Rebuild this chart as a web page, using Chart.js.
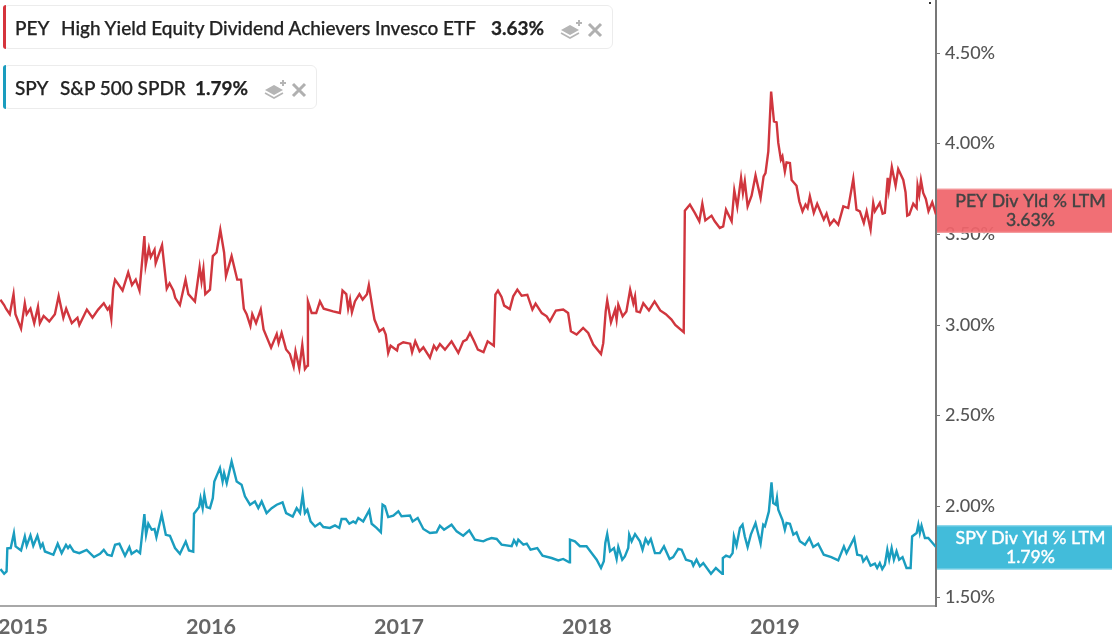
<!DOCTYPE html>
<html><head><meta charset="utf-8">
<script src="https://cdn.jsdelivr.net/npm/chart.js@4/dist/chart.umd.min.js"></script>
<style>
html,body{margin:0;padding:0;background:#fff;overflow:hidden}
#wrap{position:relative;width:1112px;height:639px}
canvas{position:absolute;left:0;top:0}
.tag{position:absolute;left:3px;height:42px;background:#fff;border:1px solid #ececec;border-radius:6px;font:500 19px Lato,sans-serif;color:#222;box-sizing:content-box;white-space:pre;-webkit-text-stroke:.25px #222}
.tag:before{content:"";position:absolute;left:-1px;top:-1px;bottom:-1px;width:3px;border-radius:3px 0 0 3px;background:var(--c)}
.tag span{position:absolute;top:11px;line-height:22px}
.tag b{font-weight:700}
.tag svg{position:absolute;top:9px}
</style></head><body>
<div id="wrap"><canvas id="c" width="1112" height="639"></canvas>
<div class="tag" style="top:5px;width:608px;--c:#d5343c">
<span style="left:11px">PEY</span><span style="left:57px">High Yield Equity Dividend Achievers Invesco ETF</span><span style="left:487px"><b>3.63%</b></span>
<svg style="left:556px" width="46" height="26" viewBox="0 0 46 26"><path d="M1 15l9-5 9 5-9 5z" fill="#b5b5b5"/><path d="M1 18l9 5 9-5" fill="none" stroke="#b5b5b5" stroke-width="1.6"/><path d="M16 8h6M19 5v6" stroke="#b5b5b5" stroke-width="2"/><path d="M29 9l12 12M41 9L29 21" stroke="#b0b0b0" stroke-width="3"/></svg>
</div>
<div class="tag" style="top:65px;width:312px;--c:#1a9cbe">
<span style="left:11px">SPY</span><span style="left:56px">S&amp;P 500 SPDR</span><span style="left:191px"><b>1.79%</b></span>
<svg style="left:260px" width="46" height="26" viewBox="0 0 46 26"><path d="M1 15l9-5 9 5-9 5z" fill="#b5b5b5"/><path d="M1 18l9 5 9-5" fill="none" stroke="#b5b5b5" stroke-width="1.6"/><path d="M16 8h6M19 5v6" stroke="#b5b5b5" stroke-width="2"/><path d="M29 9l12 12M41 9L29 21" stroke="#b0b0b0" stroke-width="3"/></svg>
</div>
</div>
<script>
const yTickValues=[1.5,2,2.5,3,3.5,4,4.5];
const xTickYears=[2015,2016,2017,2018,2019];
const peyName="PEY Div Yld % LTM", spyName="SPY Div Yld % LTM";
const peyLast=3.63, spyLast=1.79;
const peyYears=[2014.88,2014.90,2014.91,2014.93,2014.95,2014.96,2014.99,2015.01,2015.02,2015.04,2015.06,2015.08,2015.09,2015.11,2015.14,2015.17,2015.19,2015.215,2015.23,2015.26,2015.29,2015.30,2015.34,2015.37,2015.40,2015.43,2015.45,2015.46,2015.47,2015.48,2015.49,2015.53,2015.56,2015.58,2015.60,2015.62,2015.646,2015.653,2015.67,2015.68,2015.70,2015.706,2015.74,2015.765,2015.78,2015.80,2015.81,2015.835,2015.865,2015.88,2015.915,2015.94,2015.95,2015.96,2015.97,2015.995,2016.01,2016.03,2016.05,2016.07,2016.08,2016.11,2016.14,2016.16,2016.175,2016.19,2016.21,2016.22,2016.24,2016.265,2016.28,2016.32,2016.35,2016.36,2016.376,2016.40,2016.42,2016.44,2016.45,2016.47,2016.486,2016.50,2016.513,2016.516,2016.536,2016.56,2016.58,2016.60,2016.65,2016.686,2016.70,2016.72,2016.73,2016.74,2016.75,2016.766,2016.79,2016.807,2016.83,2016.84,2016.86,2016.87,2016.896,2016.917,2016.93,2016.943,2016.956,2016.99,2016.997,2017.023,2017.06,2017.07,2017.087,2017.11,2017.13,2017.165,2017.186,2017.20,2017.218,2017.245,2017.28,2017.316,2017.342,2017.36,2017.378,2017.40,2017.42,2017.45,2017.472,2017.505,2017.513,2017.527,2017.546,2017.56,2017.59,2017.608,2017.63,2017.653,2017.683,2017.71,2017.727,2017.76,2017.786,2017.803,2017.835,2017.874,2017.90,2017.915,2017.945,2017.98,2018.007,2018.034,2018.075,2018.087,2018.10,2018.108,2018.128,2018.15,2018.158,2018.167,2018.19,2018.21,2018.23,2018.247,2018.256,2018.264,2018.282,2018.30,2018.33,2018.36,2018.39,2018.42,2018.45,2018.47,2018.515,2018.521,2018.548,2018.574,2018.598,2018.614,2018.63,2018.663,2018.68,2018.707,2018.725,2018.74,2018.77,2018.784,2018.80,2018.82,2018.83,2018.84,2018.855,2018.876,2018.897,2018.924,2018.94,2018.95,2018.965,2018.98,2018.995,2019.009,2019.018,2019.032,2019.04,2019.053,2019.062,2019.08,2019.089,2019.115,2019.13,2019.147,2019.163,2019.174,2019.186,2019.207,2019.225,2019.26,2019.275,2019.293,2019.314,2019.337,2019.364,2019.39,2019.417,2019.434,2019.452,2019.473,2019.488,2019.509,2019.523,2019.532,2019.558,2019.573,2019.585,2019.60,2019.606,2019.622,2019.642,2019.656,2019.683,2019.695,2019.704,2019.715,2019.736,2019.754,2019.759,2019.768,2019.777,2019.789,2019.803,2019.817,2019.837,2019.857];
const peyValues=[3.14,3.11,3.09,3.06,3.17,3.06,2.98,3.12,3.06,3.09,3.01,3.10,3.01,3.05,3.02,3.06,3.16,3.04,3.09,3.01,3.04,3.00,3.085,3.04,3.085,3.12,3.085,3.10,3.035,3.20,3.25,3.19,3.29,3.22,3.25,3.19,3.49,3.33,3.425,3.375,3.415,3.34,3.44,3.20,3.23,3.19,3.15,3.11,3.25,3.17,3.13,3.32,3.24,3.31,3.17,3.195,3.38,3.40,3.525,3.40,3.27,3.38,3.25,3.25,3.09,3.06,2.995,3.06,3.01,3.085,2.975,2.875,2.95,2.90,2.956,2.865,2.84,2.77,2.855,2.76,2.89,2.757,2.776,3.13,3.066,3.066,3.13,3.09,3.075,3.066,3.19,3.17,3.09,3.14,3.07,3.13,3.17,3.14,3.17,3.22,3.09,3.03,2.965,2.98,2.947,2.846,2.886,2.86,2.89,2.905,2.897,2.85,2.91,2.855,2.877,2.82,2.886,2.864,2.895,2.864,2.91,2.846,2.91,2.92,2.956,2.91,2.864,2.85,2.91,2.886,3.167,3.19,3.155,3.107,3.088,3.158,3.195,3.162,3.167,3.085,3.118,3.066,3.048,3.02,3.08,3.085,3.066,2.965,2.947,2.984,2.956,2.892,2.84,2.90,3.075,3.136,3.015,3.085,3.03,3.112,3.048,3.075,3.195,3.12,3.158,3.075,3.07,3.12,3.08,3.13,3.08,3.06,3.03,3.00,2.96,3.63,3.664,3.618,3.572,3.669,3.577,3.603,3.572,3.535,3.544,3.636,3.572,3.743,3.651,3.811,3.728,3.792,3.654,3.713,3.825,3.70,3.82,3.838,3.958,4.287,4.123,4.118,4.004,3.912,3.93,3.847,3.897,3.893,3.80,3.768,3.682,3.627,3.664,3.645,3.71,3.618,3.669,3.581,3.614,3.553,3.581,3.553,3.654,3.645,3.805,3.636,3.627,3.563,3.627,3.526,3.673,3.627,3.673,3.614,3.618,3.811,3.746,3.871,3.768,3.86,3.80,3.732,3.603,3.609,3.669,3.645,3.768,3.719,3.798,3.728,3.695,3.627,3.677,3.61];
const spyYears=[2014.88,2014.90,2014.913,2014.917,2014.935,2014.952,2014.961,2014.99,2015.01,2015.02,2015.04,2015.055,2015.077,2015.094,2015.105,2015.117,2015.162,2015.185,2015.206,2015.229,2015.24,2015.25,2015.27,2015.30,2015.339,2015.378,2015.41,2015.43,2015.449,2015.472,2015.49,2015.513,2015.543,2015.566,2015.578,2015.605,2015.623,2015.646,2015.655,2015.667,2015.685,2015.70,2015.71,2015.738,2015.76,2015.782,2015.809,2015.835,2015.866,2015.883,2015.906,2015.91,2015.937,2015.945,2015.956,2015.965,2015.977,2015.995,2016.01,2016.018,2016.048,2016.062,2016.07,2016.084,2016.11,2016.137,2016.163,2016.181,2016.208,2016.234,2016.252,2016.27,2016.296,2016.323,2016.35,2016.381,2016.40,2016.435,2016.456,2016.474,2016.488,2016.50,2016.513,2016.53,2016.554,2016.58,2016.598,2016.633,2016.66,2016.683,2016.695,2016.718,2016.736,2016.757,2016.77,2016.784,2016.81,2016.842,2016.855,2016.881,2016.904,2016.913,2016.926,2016.943,2016.97,2016.997,2017.014,2017.059,2017.073,2017.10,2017.13,2017.165,2017.20,2017.218,2017.24,2017.28,2017.307,2017.342,2017.374,2017.404,2017.449,2017.467,2017.493,2017.52,2017.546,2017.60,2017.612,2017.626,2017.635,2017.662,2017.68,2017.70,2017.736,2017.764,2017.812,2017.848,2017.874,2017.906,2017.91,2017.936,2017.963,2017.998,2018.025,2018.052,2018.075,2018.09,2018.098,2018.108,2018.123,2018.144,2018.158,2018.167,2018.188,2018.202,2018.22,2018.225,2018.238,2018.256,2018.282,2018.296,2018.312,2018.326,2018.34,2018.362,2018.388,2018.41,2018.44,2018.459,2018.486,2018.504,2018.527,2018.557,2018.566,2018.583,2018.601,2018.619,2018.66,2018.686,2018.72,2018.723,2018.74,2018.76,2018.775,2018.782,2018.796,2018.814,2018.828,2018.84,2018.855,2018.872,2018.897,2018.924,2018.938,2018.947,2018.968,2018.982,2018.991,2019.005,2019.011,2019.018,2019.04,2019.053,2019.062,2019.08,2019.098,2019.115,2019.133,2019.16,2019.183,2019.204,2019.23,2019.26,2019.30,2019.337,2019.367,2019.381,2019.422,2019.438,2019.461,2019.47,2019.488,2019.509,2019.532,2019.544,2019.558,2019.571,2019.585,2019.598,2019.608,2019.621,2019.633,2019.647,2019.661,2019.679,2019.70,2019.722,2019.73,2019.754,2019.763,2019.771,2019.78,2019.798,2019.816,2019.857];
const spyValues=[1.654,1.628,1.641,1.768,1.77,1.852,1.779,1.757,1.834,1.783,1.84,1.783,1.838,1.775,1.794,1.751,1.733,1.794,1.742,1.788,1.77,1.784,1.751,1.742,1.76,1.72,1.738,1.76,1.733,1.727,1.788,1.794,1.727,1.775,1.738,1.757,1.742,1.957,1.843,1.904,1.871,1.875,1.83,1.954,1.843,1.838,1.77,1.738,1.806,1.757,1.75,1.959,1.996,2.045,1.99,2.064,1.996,1.99,2.045,2.137,2.211,2.137,2.183,2.128,2.248,2.137,2.119,2.055,2.009,2.027,1.99,2.027,1.963,1.99,2.009,2.022,1.963,1.944,1.99,1.963,2.064,1.963,1.981,1.917,1.889,1.908,1.886,1.881,1.895,1.881,1.93,1.93,1.904,1.917,1.908,1.936,1.917,1.978,1.904,1.881,1.857,2.009,2.0,1.941,1.949,1.973,1.945,1.949,1.917,1.936,1.875,1.853,1.857,1.893,1.871,1.899,1.862,1.838,1.868,1.816,1.807,1.816,1.825,1.82,1.789,1.78,1.813,1.789,1.816,1.789,1.794,1.761,1.77,1.728,1.715,1.702,1.71,1.691,1.816,1.807,1.78,1.78,1.743,1.706,1.66,1.697,1.798,1.847,1.752,1.77,1.71,1.776,1.706,1.724,1.77,1.844,1.807,1.847,1.807,1.761,1.82,1.794,1.82,1.742,1.742,1.779,1.709,1.72,1.765,1.761,1.706,1.696,1.673,1.706,1.669,1.687,1.628,1.66,1.628,1.715,1.728,1.72,1.742,1.834,1.783,1.88,1.899,1.834,1.776,1.844,1.908,1.794,1.899,1.89,1.972,2.132,2.018,2.009,2.046,1.981,1.926,1.871,1.908,1.904,1.844,1.856,1.807,1.788,1.825,1.776,1.794,1.733,1.72,1.702,1.779,1.742,1.825,1.733,1.728,1.696,1.72,1.673,1.684,1.66,1.687,1.654,1.678,1.761,1.706,1.77,1.706,1.752,1.706,1.72,1.66,1.66,1.834,1.853,1.899,1.853,1.893,1.825,1.825,1.776];

const zip=(xs,ys)=>xs.map((x,i)=>({x,y:ys[i]}));
const noPad=s=>{s.paddingLeft=s.paddingRight=s.paddingTop=s.paddingBottom=0};
const endTags={id:'endTags',afterDraw(ch){
  const c=ch.ctx,y=ch.scales.y,L=ch.chartArea.right+1,W=ch.width-L;
  [[peyName,peyLast,'rgba(240,100,106,.93)','#444','#f4a0a3',0],[spyName,spyLast,'rgba(56,184,216,.95)','#fff','#8ad6ea',3]].forEach(([n,v,bg,fg,bd,dy])=>{
    const cy=y.getPixelForValue(v)+dy;
    c.save();
    c.fillStyle=bg;c.fillRect(L,cy-22,W,44);
    c.fillStyle=bd;c.fillRect(L,cy-22,W,1);c.fillRect(L,cy+21,W,1);
    c.fillStyle=fg;c.strokeStyle=fg;c.lineWidth=.3;c.font='500 17.7px Lato, sans-serif';c.textAlign='center';c.textBaseline='middle';
    c.fillText(n,L+W/2+6,cy-9);c.strokeText(n,L+W/2+6,cy-9);
    c.fillText(v.toFixed(2)+'%',L+W/2+6,cy+10);c.strokeText(v.toFixed(2)+'%',L+W/2+6,cy+10);
    c.restore();
  });
  c.save();c.fillStyle='#333';c.fillRect(929,2,2,2);c.restore();
}};
new Chart(document.getElementById('c'),{
  type:'line',
  data:{datasets:[
    {label:peyName,data:zip(peyYears,peyValues),borderColor:'#d0363e',borderWidth:2.4,pointRadius:0,tension:0,fill:false},
    {label:spyName,data:zip(spyYears,spyValues),borderColor:'#1a9dbf',borderWidth:2.4,pointRadius:0,tension:0,fill:false}
  ]},
  options:{
    responsive:false,animation:false,devicePixelRatio:1,
    layout:{autoPadding:false,padding:0},
    plugins:{legend:{display:false},tooltip:{enabled:false}},
    scales:{
      x:{type:'linear',min:2014.878,max:2019.857,
        afterFit(s){s.height=33;noPad(s)},
        afterBuildTicks(s){s.ticks=xTickYears.map(value=>({value}))},
        grid:{display:true,drawOnChartArea:false,drawTicks:false},
        border:{color:'#a8a8a8',width:2},
        ticks:{autoSkip:false,maxRotation:0,padding:8,color:'#666',font:{family:'Lato',size:21.5,weight:'700'},callback:v=>String(v)}},
      y:{type:'linear',position:'right',min:1.4504,max:4.7923,
        afterFit(s){s.width=176;noPad(s)},
        afterBuildTicks(s){s.ticks=yTickValues.map(value=>({value}))},
        grid:{display:true,drawOnChartArea:false,drawTicks:true,tickLength:4,color:'#777'},
        border:{color:'#777',width:2},
        ticks:{autoSkip:false,padding:5,color:'#555',font:{family:'Lato',size:18,weight:'500'},callback:v=>v.toFixed(2)+'%'}}
    }
  },
  plugins:[endTags]
});
</script>
</body></html>
